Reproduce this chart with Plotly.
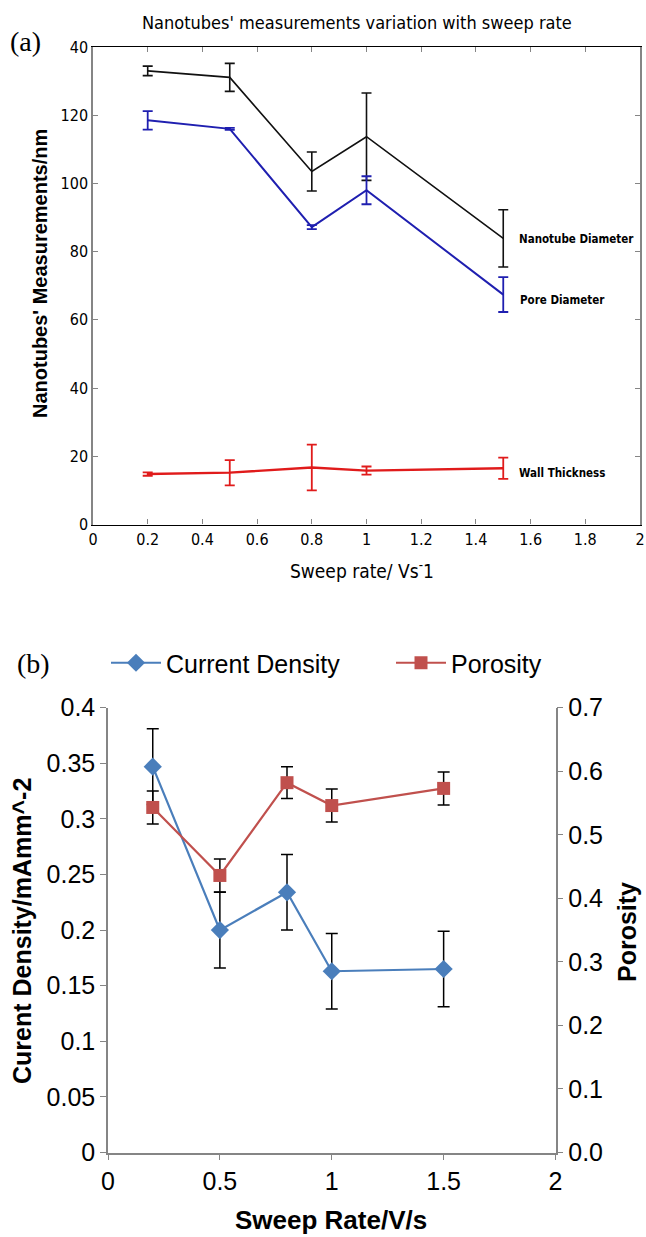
import plotly.graph_objects as go

W, H = 646, 1237

def px(x):
    return x / W

def py(y):
    return 1 - y / H

# ---------------- data: panel (a) ----------------
sweep_a = [0.2, 0.5, 0.8, 1.0, 1.5]
nanotube_diameter = [133.0, 131.1, 103.5, 113.7, 83.9]
nanotube_err = [1.4, 4.1, 5.7, 12.8, 8.4]
pore_diameter = [118.5, 116.0, 87.2, 98.0, 67.4]
pore_err = [2.7, 0.3, 0.6, 4.1, 5.1]
wall_thickness = [14.8, 15.2, 16.7, 15.8, 16.5]
wall_err = [0.5, 3.7, 6.7, 1.2, 3.1]

xticks_a = [0, 0.2, 0.4, 0.6, 0.8, 1.0, 1.2, 1.4, 1.6, 1.8, 2.0]
xticklabels_a = ["0", "0.2", "0.4", "0.6", "0.8", "1", "1.2", "1.4", "1.6", "1.8", "2"]
yticks_a = [0, 20, 40, 60, 80, 100, 120, 140]
yticklabels_a = ["0", "20", "40", "60", "80", "100", "120", "40"]

# ---------------- data: panel (b) ----------------
sweep_b = [0.2, 0.5, 0.8, 1.0, 1.5]
current_density = [0.347, 0.200, 0.234, 0.163, 0.165]
current_err = [0.034, 0.034, 0.034, 0.034, 0.034]
porosity = [0.543, 0.436, 0.582, 0.546, 0.573]
porosity_err = [0.026, 0.026, 0.025, 0.026, 0.026]

xticks_b = [0, 0.5, 1, 1.5, 2]
xticklabels_b = ["0", "0.5", "1", "1.5", "2"]
yticks_b = [0, 0.05, 0.1, 0.15, 0.2, 0.25, 0.3, 0.35, 0.4]
yticklabels_b = ["0", "0.05", "0.1", "0.15", "0.2", "0.25", "0.3", "0.35", "0.4"]
y2ticks_b = [0, 0.1, 0.2, 0.3, 0.4, 0.5, 0.6, 0.7]
y2ticklabels_b = ["0.0", "0.1", "0.2", "0.3", "0.4", "0.5", "0.6", "0.7"]

NARROW = "Liberation Sans Narrow, DejaVu Sans Condensed, Arial Narrow, sans-serif"
ARIAL = "Liberation Sans, Arial, sans-serif"
SERIF = "Liberation Serif, Times New Roman, serif"

BLACK = "#111111"
BLUE_A = "#1f1fb0"
RED_A = "#e01b1b"
BLUE_B = "#4A7EBB"
RED_B = "#C0504D"

fig = go.Figure()

# panel (a)
fig.add_trace(go.Scatter(
    x=sweep_a, y=nanotube_diameter, mode="lines", name="Nanotube Diameter",
    line=dict(color=BLACK, width=1.6),
    error_y=dict(type="data", array=nanotube_err, color=BLACK, thickness=1.6, width=5),
    xaxis="x", yaxis="y", showlegend=False))
fig.add_trace(go.Scatter(
    x=sweep_a, y=pore_diameter, mode="lines", name="Pore Diameter",
    line=dict(color=BLUE_A, width=2),
    error_y=dict(type="data", array=pore_err, color=BLUE_A, thickness=1.8, width=5),
    xaxis="x", yaxis="y", showlegend=False))
fig.add_trace(go.Scatter(
    x=sweep_a, y=wall_thickness, mode="lines", name="Wall Thickness",
    line=dict(color=RED_A, width=2.4),
    error_y=dict(type="data", array=wall_err, color=RED_A, thickness=1.8, width=5),
    xaxis="x", yaxis="y", showlegend=False))

# panel (b)
fig.add_trace(go.Scatter(
    x=sweep_b, y=current_density, mode="lines+markers", name="Current Density",
    line=dict(color=BLUE_B, width=2.2),
    marker=dict(symbol="diamond", size=14, color=BLUE_B),
    error_y=dict(type="data", array=current_err, color="black", thickness=1.5, width=6),
    xaxis="x2", yaxis="y2", legend="legend"))
fig.add_trace(go.Scatter(
    x=sweep_b, y=porosity, mode="lines+markers", name="Porosity",
    line=dict(color=RED_B, width=2.2),
    marker=dict(symbol="square", size=13, color=RED_B),
    error_y=dict(type="data", array=porosity_err, color="black", thickness=1.5, width=6),
    xaxis="x2", yaxis="y3", legend="legend2"))


def ann(text, x, y, size, family, angle=0, xanchor="center"):
    return dict(text=text, x=px(x), y=py(y), xref="paper", yref="paper",
                xanchor=xanchor, yanchor="middle", showarrow=False, textangle=angle,
                font=dict(family=family, size=size, color="black"))


def series_label(text, x, y):
    return dict(text="<b>" + text + "</b>", x=x, y=y, xref="x", yref="y", xanchor="left",
                yanchor="middle", showarrow=False,
                font=dict(family=NARROW, size=11.5, color="black"))


annotations = [
    ann("(a)", 25, 41, 28, SERIF),
    ann("Nanotubes' measurements variation with sweep rate", 357, 22, 18, NARROW),
    ann("<b>Nanotubes' Measurements/nm</b>", 40, 274, 20, ARIAL, angle=-90),
    ann("Sweep rate/ Vs<sup>-</sup>1", 362, 570, 19, NARROW),
    ann("(b)", 33, 663, 28, SERIF),
    ann("<b>Curent Density/mAmm^-2</b>", 22, 931, 25, ARIAL, angle=-90),
    ann("<b>Porosity</b>", 627, 932, 25, ARIAL, angle=-90),
    ann("<b>Sweep Rate/V/s</b>", 331, 1220, 26, ARIAL),
    series_label("Nanotube Diameter", 1.55, 83.7),
    series_label("Pore Diameter", 1.555, 65.8),
    series_label("Wall Thickness", 1.55, 15.1),
]

GRAY = "#858585"

fig.update_layout(
    width=W, height=H,
    margin=dict(l=0, r=0, t=0, b=0, autoexpand=False),
    paper_bgcolor="white", plot_bgcolor="white",
    annotations=annotations,
    xaxis=dict(domain=[px(93), px(640)], range=[0, 2], anchor="y",
               tickmode="array", tickvals=xticks_a, ticktext=xticklabels_a,
               ticks="inside", ticklen=5, tickcolor=GRAY, showline=True, linecolor="black",
               linewidth=1.2, mirror="ticks", showgrid=False, zeroline=False,
               tickfont=dict(family=NARROW, size=16, color="black")),
    yaxis=dict(domain=[py(524.5), py(47)], range=[0, 140], anchor="x",
               tickmode="array", tickvals=yticks_a, ticktext=yticklabels_a,
               ticks="inside", ticklen=5, tickcolor=GRAY, showline=True, linecolor=GRAY,
               linewidth=1.5, mirror="ticks", showgrid=False, zeroline=False,
               tickfont=dict(family=NARROW, size=16, color="black")),
    xaxis2=dict(domain=[px(108), px(555.5)], range=[0, 2], anchor="y2",
                tickmode="array", tickvals=xticks_b, ticktext=xticklabels_b,
                ticks="outside", ticklen=6, tickcolor=GRAY, showline=True, linecolor=GRAY,
                linewidth=1.5, showgrid=False, zeroline=False,
                tickfont=dict(family=ARIAL, size=25, color="black")),
    yaxis2=dict(domain=[py(1152.5), py(707.7)], range=[0, 0.4], anchor="x2",
                tickmode="array", tickvals=yticks_b, ticktext=yticklabels_b,
                ticks="outside", ticklen=6, tickcolor=GRAY, showline=True, linecolor=GRAY,
                linewidth=1.5, showgrid=False, zeroline=False,
                tickfont=dict(family=ARIAL, size=25, color="black")),
    yaxis3=dict(domain=[py(1152.5), py(707.7)], range=[0, 0.7], anchor="x2",
                overlaying="y2", side="right",
                tickmode="array", tickvals=y2ticks_b, ticktext=y2ticklabels_b,
                ticks="outside", ticklen=6, tickcolor=GRAY, showline=True, linecolor=GRAY,
                linewidth=1.5, showgrid=False, zeroline=False,
                tickfont=dict(family=ARIAL, size=25, color="black")),
    legend=dict(x=px(106), y=py(663), xanchor="left", yanchor="middle", orientation="h",
                itemwidth=50,
                bgcolor="rgba(0,0,0,0)", font=dict(family=ARIAL, size=25, color="black")),
    legend2=dict(x=px(391), y=py(663), xanchor="left", yanchor="middle", orientation="h",
                 itemwidth=50,
                 bgcolor="rgba(0,0,0,0)", font=dict(family=ARIAL, size=25, color="black")),
)

fig.write_html("out.html")
